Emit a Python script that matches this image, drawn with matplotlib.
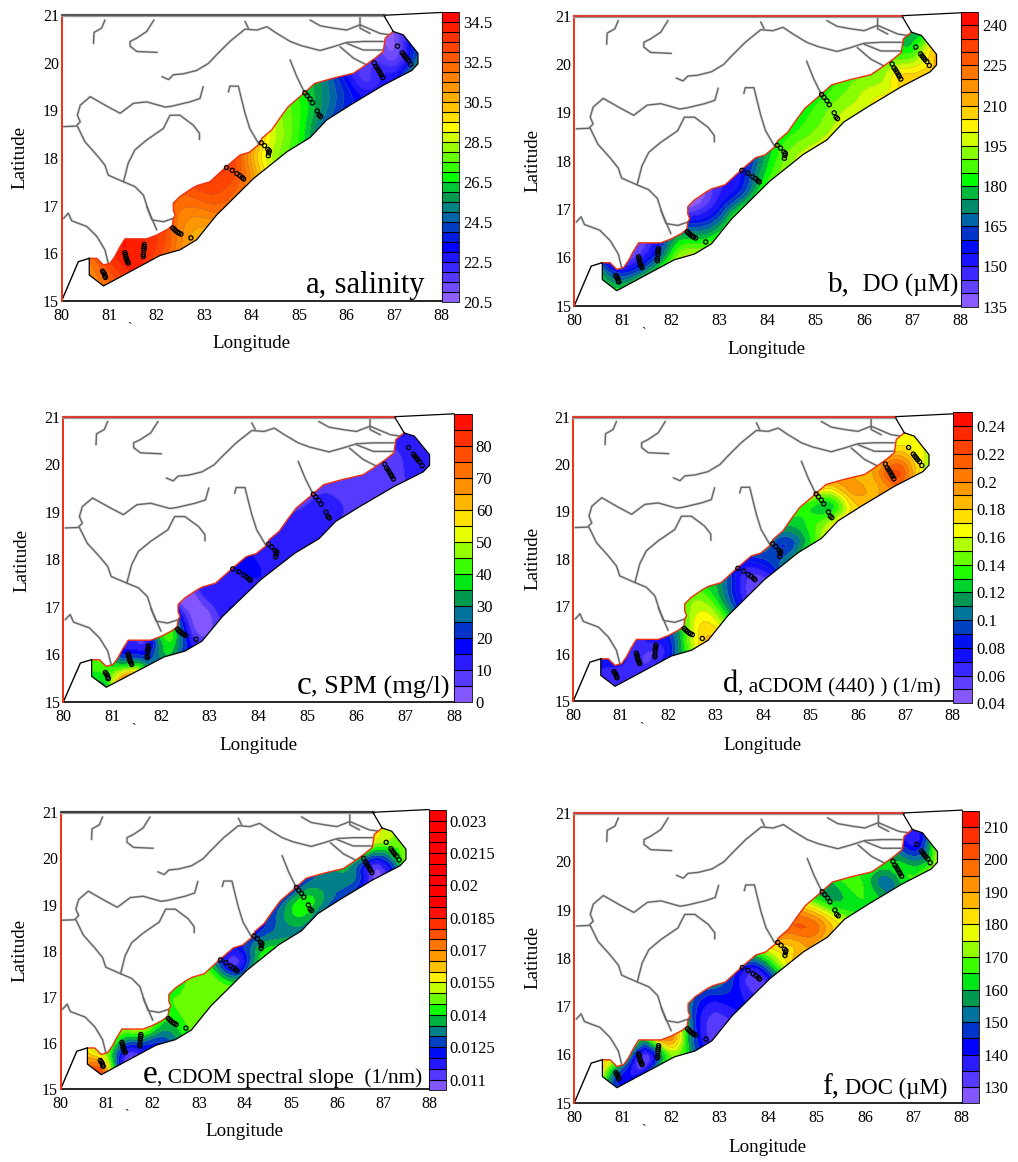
# plot.py
# six coastal maps, bay of bengal western shelf

import numpy as np
import matplotlib
matplotlib.use("Agg")
import matplotlib.pyplot as plt
from matplotlib.colors import LinearSegmentedColormap
from matplotlib.patches import Polygon
from matplotlib.tri import Triangulation, UniformTriRefiner

plt.rcParams["font.family"] = ["Liberation Serif", "DejaVu Serif"]

W, H = 1018, 1162

# coast, land side from the south west, then back along the sea side
COAST = [(80.58, 15.89), (80.74, 15.89), (80.88, 15.75), (81.02, 15.79), (81.12, 15.93), (81.22, 16.12),
         (81.33, 16.30), (81.79, 16.30), (82.0, 16.38), (82.21, 16.49), (82.33, 16.58), (82.35, 16.73),
         (82.39, 16.8), (82.35, 16.9), (82.35, 17.05), (82.49, 17.19), (82.74, 17.36), (82.85, 17.42),
         (83.12, 17.5), (83.47, 17.82), (83.75, 18.06), (83.95, 18.12), (84.18, 18.31), (84.21, 18.41),
         (84.42, 18.59), (84.6, 18.85), (84.77, 19.08), (85.05, 19.32), (85.33, 19.57), (85.72, 19.68),
         (86.14, 19.78), (86.35, 19.92), (86.6, 20.1), (86.77, 20.24), (86.81, 20.52), (86.98, 20.66)]
SEA = [(87.19, 20.59), (87.5, 20.2), (87.5, 19.98), (87.37, 19.84), (86.77, 19.53), (86.07, 19.11),
       (85.58, 18.8), (85.23, 18.43), (84.74, 18.13), (84.04, 17.57), (83.26, 16.80), (82.84, 16.28),
       (82.49, 16.07), (82.07, 15.95), (80.88, 15.31), (80.58, 15.54)]
LAND_EDGE = [(80.35, 15.82), (80.0, 15.0)]

# cross shelf sections, land end and sea end
SECTION_LAND = [(80.5, 15.95), (80.85, 15.85), (81.15, 16.05), (81.35, 16.4), (81.75, 16.4), (82.15, 16.6),
                (82.3, 17.1), (82.7, 17.45), (83.15, 17.6), (83.5, 17.9), (83.85, 18.15), (84.2, 18.45),
                (84.5, 18.7), (84.8, 19.15), (85.1, 19.42), (85.45, 19.65), (85.85, 19.8), (86.25, 19.92),
                (86.65, 20.3), (86.8, 20.7), (87.05, 20.8), (87.3, 20.6)]
SECTION_SEA = [(80.5, 15.45), (81.0, 15.2), (81.4, 15.45), (81.75, 15.65), (82.05, 15.85), (82.45, 15.95),
               (82.9, 16.15), (83.3, 16.7), (83.7, 17.1), (84.05, 17.45), (84.4, 17.75), (84.75, 18.05),
               (85.2, 18.35), (85.55, 18.72), (85.85, 18.9), (86.1, 19.05), (86.4, 19.25), (86.75, 19.45),
               (87.0, 19.6), (87.4, 19.75), (87.6, 20.05), (87.6, 20.3)]

# values at each section: land, middle, sea
SALINITY = [(32, 31.5, 31.5), (33, 32.5, 32), (34.3, 34, 33.5), (34.5, 34.3, 34), (34, 33.7, 33), (33, 32.5, 31.5),
            (32.5, 31.5, 30.5), (33, 32.5, 31.5), (33.5, 33, 32), (33.5, 32.5, 31), (32, 30, 29), (30, 28.5, 27.5),
            (28.5, 27.5, 26), (27.5, 26.5, 24.5), (26.5, 25.5, 24), (25.5, 24.5, 23.5), (23.5, 23, 23), (22, 22, 23),
            (21.5, 22, 23), (20.8, 21.5, 26.5), (21, 23, 25.5), (22, 23, 24)]
DO = [(160, 178, 185), (150, 170, 190), (140, 160, 190), (140, 155, 190), (155, 172, 195), (165, 185, 200),
      (135, 165, 195), (140, 155, 190), (150, 160, 190), (155, 172, 190), (170, 184, 195), (180, 190, 198),
      (182, 190, 198), (182, 190, 198), (182, 192, 200), (185, 193, 200), (188, 195, 202), (188, 198, 205),
      (182, 198, 210), (178, 190, 215), (175, 195, 215), (180, 195, 210)]
SPM = [(40, 40, 42), (42, 42, 50), (20, 40, 85), (14, 18, 35), (14, 25, 32), (42, 35, 20),
       (7.5, 8, 13), (9, 9.5, 12), (11, 12, 12), (17, 16, 12), (15, 13, 12), (12, 12, 12),
       (12, 12, 12), (9, 12, 12), (8, 12, 8), (8, 8, 8), (8, 8, 8), (8, 8, 8),
       (8, 8, 10), (18, 12, 12), (15, 12, 12), (12, 12, 12)]
ACDOM = [(.07, .07, .07), (.075, .065, .07), (.07, .065, .07), (.07, .06, .07), (.085, .07, .09), (.11, .125, .14),
         (.14, .165, .185), (.13, .135, .13), (.11, .08, .06), (.08, .06, .05), (.10, .09, .10), (.11, .09, .125),
         (.12, .12, .15), (.14, .13, .17), (.17, .13, .18), (.19, .18, .18), (.19, .19, .19), (.185, .2, .2),
         (.17, .215, .2), (.17, .175, .15), (.17, .165, .14), (.17, .16, .14)]
SLOPE = [(.016, .0165, .0165), (.015, .0165, .017), (.0145, .0125, .011), (.015, .013, .0115), (.016, .0135, .012),
         (.0145, .0135, .013), (.0145, .0145, .0145), (.0145, .0147, .0148), (.0145, .0145, .0147), (.0125, .0115, .014),
         (.0122, .013, .0145), (.012, .0133, .0142), (.0125, .0133, .0133), (.0122, .0143, .013), (.0122, .014, .0125),
         (.0128, .0133, .0125), (.0133, .0133, .0122), (.0138, .0125, .0112), (.0155, .012, .0112), (.0155, .0143, .0135),
         (.015, .0148, .0155), (.015, .015, .015)]
DOC = [(185, 190, 180), (170, 145, 155), (160, 135, 155), (170, 138, 170), (195, 175, 170), (180, 165, 155),
       (158, 140, 135), (155, 140, 137), (150, 140, 137), (150, 135, 140), (170, 170, 175), (195, 185, 190),
       (200, 198, 182), (175, 178, 178), (155, 160, 165), (165, 165, 165), (165, 160, 158), (165, 155, 160),
       (150, 160, 165), (140, 145, 178), (140, 155, 185), (150, 165, 185)]

STATION_LON = [80.86, 80.88, 80.9, 80.91, 80.92, 81.33, 81.34, 81.35, 81.36, 81.37, 81.39, 81.40,
               81.74, 81.74, 81.73, 81.73, 81.72, 81.72, 82.34, 82.37, 82.40, 82.44, 82.47, 82.51, 82.72,
               83.47, 83.59, 83.69, 83.75, 83.80, 83.83, 84.2, 84.27, 84.34, 84.37, 84.36, 84.35,
               85.12, 85.17, 85.23, 85.28, 85.38, 85.42, 85.45,
               86.58, 86.62, 86.65, 86.68, 86.71, 86.73, 86.76,
               87.07, 87.17, 87.2, 87.23, 87.26, 87.3, 87.35]
STATION_LAT = [15.62, 15.59, 15.56, 15.52, 15.49, 16.01, 15.97, 15.93, 15.89, 15.85, 15.82, 15.79,
               16.18, 16.14, 16.10, 16.06, 15.97, 15.93, 16.53, 16.50, 16.47, 16.44, 16.42, 16.40, 16.32,
               17.80, 17.74, 17.67, 17.63, 17.59, 17.56, 18.32, 18.26, 18.18, 18.15, 18.11, 18.05,
               19.37, 19.31, 19.24, 19.16, 18.99, 18.90, 18.87,
               20.0, 19.92, 19.88, 19.83, 19.78, 19.74, 19.69,
               20.35, 20.21, 20.17, 20.13, 20.09, 20.05, 19.97]

RIVERS = [
    [(80.91, 20.90), (80.84, 20.73), (80.68, 20.64), (80.67, 20.41)],
    [(81.94, 20.90), (81.79, 20.66), (81.58, 20.52), (81.44, 20.45), (81.44, 20.35), (81.58, 20.24), (82.01, 20.22)],
    [(82.11, 19.71), (82.25, 19.65), (82.35, 19.75), (82.56, 19.77), (82.84, 19.84), (83.09, 19.99), (83.26, 20.17),
     (83.54, 20.45), (83.75, 20.62), (83.86, 20.71), (84.11, 20.69), (84.32, 20.76), (84.53, 20.62), (84.81, 20.45),
     (85.05, 20.36), (85.44, 20.26), (85.72, 20.34), (86.0, 20.43), (86.35, 20.45), (86.77, 20.45)],
    [(83.86, 20.87), (83.93, 20.73)],
    [(85.23, 20.90), (85.44, 20.78), (85.72, 20.73), (86.0, 20.69), (86.28, 20.80), (86.7, 20.62), (86.91, 20.59)],
    [(86.28, 20.97), (86.28, 20.73), (86.49, 20.62)],
    [(86.0, 20.41), (86.35, 20.27), (86.77, 20.27)],
    [(85.86, 20.34), (86.14, 20.10), (86.49, 19.92)],
    [(84.81, 20.06), (84.95, 19.71), (85.12, 19.36)],
    [(82.98, 19.5), (82.91, 19.25), (82.70, 19.18), (82.32, 19.09), (82.18, 19.07), (81.79, 19.18), (81.51, 19.15),
     (81.23, 18.94), (80.95, 19.09), (80.6, 19.29), (80.39, 19.11), (80.33, 18.9), (80.39, 18.76), (80.30, 18.67),
     (80.04, 18.66)],
    [(80.33, 18.67), (80.49, 18.34), (80.74, 18.06), (80.91, 17.85), (80.98, 17.64), (81.3, 17.5), (81.54, 17.4),
     (81.72, 17.22), (81.82, 16.91), (82.0, 16.49)],
    [(81.3, 17.5), (81.4, 17.89), (81.54, 18.17), (81.79, 18.38), (82.14, 18.62), (82.28, 18.9), (82.49, 18.9),
     (82.77, 18.69), (82.9, 18.52), (82.9, 18.39)],
    [(81.79, 16.98), (81.9, 16.70), (82.14, 16.66), (82.35, 16.73)],
    [(80.04, 16.73), (80.14, 16.84), (80.21, 16.68), (80.53, 16.56), (80.74, 16.35), (80.91, 16.07), (80.98, 15.79)],
    [(83.51, 19.39), (83.54, 19.51), (83.72, 19.51), (83.79, 19.22), (83.86, 18.94), (83.96, 18.62), (84.14, 18.31)],
]

# bands = how many bands the whole palette is spread over, the rest stay red
PANELS = [
    dict(vals=SALINITY, lo=20.5, hi=35.0, step=0.5, ticks=[20.5, 22.5, 24.5, 26.5, 28.5, 30.5, 32.5, 34.5],
         labels=["20.5", "22.5", "24.5", "26.5", "28.5", "30.5", "32.5", "34.5"], bands=29,
         map_px=(61.7, 441.7, 15.3, 300.7), bar_px=(459, 12.3, 301.7),
         lat_px=(20, 157), lon_px=(252, 344),
         lead="a,", lead_fs=22, rest=" salinity", rest_fs=22, note=(85.14, 15.17), top="#444444"),
    dict(vals=DO, lo=135, hi=245, step=5, ticks=[135, 150, 165, 180, 195, 210, 225, 240],
         labels=["135", "150", "165", "180", "195", "210", "225", "240"], bands=22,
         map_px=(574.3, 960.7, 15.7, 305.7), bar_px=(978.3, 11.7, 306.7),
         lat_px=(533, 160), lon_px=(767, 350),
         lead="b,", lead_fs=21, rest="  DO (\u00b5M)", rest_fs=18, note=(85.26, 15.29), top="#ee2211"),
    dict(vals=SPM, lo=0, hi=90, step=5, ticks=[0, 10, 20, 30, 40, 50, 60, 70, 80],
         labels=["0", "10", "20", "30", "40", "50", "60", "70", "80"], bands=18,
         map_px=(63.3, 454, 416.7, 702), bar_px=(471.7, 414, 702.3),
         lat_px=(22, 560), lon_px=(259, 746),
         lead="c", lead_fs=24, rest=", SPM (mg/l)", rest_fs=19, note=(84.78, 15.17), top="#ee2211"),
    dict(vals=ACDOM, lo=0.04, hi=0.25, step=0.01, ticks=[.04, .06, .08, .1, .12, .14, .16, .18, .2, .22, .24],
         labels=["0.04", "0.06", "0.08", "0.1", "0.12", "0.14", "0.16", "0.18", "0.2", "0.22", "0.24"], bands=21,
         map_px=(573.3, 952.7, 416.7, 701), bar_px=(972, 412.3, 703.3),
         lat_px=(533, 558), lon_px=(763, 745),
         lead="d", lead_fs=22, rest=", aCDOM (440) ) (1/m)", rest_fs=15.5, note=(83.16, 15.18), top="#ee2211"),
    dict(vals=SLOPE, lo=0.0105, hi=0.0235, step=0.0005,
         ticks=[.011, .0125, .014, .0155, .017, .0185, .02, .0215, .023],
         labels=["0.011", "0.0125", "0.014", "0.0155", "0.017", "0.0185", "0.02", "0.0215", "0.023"], bands=17,
         map_px=(60.7, 429, 812.3, 1089), bar_px=(445.7, 810, 1090.3),
         lat_px=(20, 950), lon_px=(245, 1132),
         lead="e", lead_fs=24, rest=", CDOM spectral slope  (1/nm)", rest_fs=15.3, note=(81.78, 15.14), top="#222222"),
    dict(vals=DOC, lo=125, hi=215, step=5, ticks=[130, 140, 150, 160, 170, 180, 190, 200, 210],
         labels=["130", "140", "150", "160", "170", "180", "190", "200", "210"], bands=18,
         map_px=(574.3, 961.7, 813, 1102.7), bar_px=(979.3, 810.7, 1103.3),
         lat_px=(533, 957), lon_px=(768, 1147),
         lead="f,", lead_fs=21, rest=" DOC (\u00b5M)", rest_fs=16.5, note=(85.11, 15.18), top="#ee2211"),
]

# purple - blue - teal - green - yellow - red, like the surfer palette
RAINBOW = LinearSegmentedColormap.from_list("rainbow_bands", [
    (0.0, "#9966ff"), (0.19, "#0000ff"), (0.25, "#0033cc"), (0.31, "#007799"), (0.36, "#009950"),
    (0.40, "#00cc33"), (0.43, "#00ff00"), (0.50, "#66ff00"), (0.60, "#ffff00"), (0.71, "#ffaa00"),
    (0.85, "#ff5500"), (1.0, "#ff0000")])


def shelf_mesh():
    land = np.array(SECTION_LAND)
    sea = np.array(SECTION_SEA)
    mid = (land + sea) / 2
    pts = np.stack([land, mid, sea], axis=1).reshape(-1, 2)
    tris = []
    for i in range(len(land) - 1):
        for j in range(2):
            a = i * 3 + j
            tris.append([a, a + 1, a + 3])
            tris.append([a + 1, a + 4, a + 3])
    return Triangulation(pts[:, 0], pts[:, 1], np.array(tris))


MESH = shelf_mesh()


def draw_panel(fig, p):
    x0, x1, y21, y15 = p["map_px"]
    ax = fig.add_axes([x0 / W, 1 - y15 / H, (x1 - x0) / W, (y15 - y21) / H])
    ax.set_xlim(80, 88)
    ax.set_ylim(15, 21)
    for s in ax.spines.values():
        s.set_visible(False)
    ax.tick_params(length=0, labelsize=11.5)
    ax.tick_params(axis="x", pad=5)
    ax.tick_params(axis="y", pad=2)
    ax.set_xticks(range(80, 89))
    ax.set_yticks(range(15, 22))

    for river in RIVERS:
        r = np.array(river)
        ax.plot(r[:, 0], r[:, 1], color="#dddddd", lw=2.0, solid_capstyle="round", solid_joinstyle="round", zorder=1)
        ax.plot(r[:, 0], r[:, 1], color="#666666", lw=1.0, solid_capstyle="round", solid_joinstyle="round", zorder=1.1)

    levels = np.arange(p["lo"], p["hi"] + p["step"] / 2, p["step"])
    n = len(levels) - 1
    colors = [RAINBOW(min((i + 0.5) / p["bands"], 1.0)) for i in range(n)]

    z = np.array(p["vals"], dtype=float).reshape(-1)
    fine_tri, fine_z = UniformTriRefiner(MESH).refine_field(z, subdiv=3)
    fine_z = np.clip(fine_z, p["lo"] + 1e-6, p["hi"] - 1e-6)

    shelf = Polygon(COAST + SEA, closed=True, transform=ax.transData, fc="none", ec="none")
    ax.add_patch(shelf)
    cs = ax.tricontourf(fine_tri, fine_z, levels=levels, colors=colors, zorder=2)
    cs.set_clip_path(shelf)
    cl = ax.tricontour(fine_tri, fine_z, levels=levels, colors="#777777", linewidths=0.3, alpha=0.5, zorder=2.1)
    cl.set_clip_path(shelf)

    coast = np.array(COAST)
    sea = np.array(SEA + [COAST[0]])
    edge = np.array([COAST[0]] + LAND_EDGE)
    ax.plot(coast[:, 0], coast[:, 1], color="#f03010", lw=1.0, zorder=3)
    ax.plot(np.r_[COAST[-1][0], sea[:, 0]], np.r_[COAST[-1][1], sea[:, 1]], color="black", lw=0.9, zorder=3)
    ax.plot(edge[:, 0], edge[:, 1], color="black", lw=1.0, zorder=3)
    # frame of the land mask
    ax.plot([80, 88], [15, 15], color="black", lw=1.2, zorder=3, clip_on=False)
    ax.plot([80, 80], [15, 21], color="#f03010", lw=1.4, zorder=3, clip_on=False)
    ax.plot([80, 86.78], [21, 21], color="#999999", lw=2.4, zorder=3, clip_on=False)
    ax.plot([80, 86.78], [21, 21], color=p["top"], lw=1.1, zorder=3.1, clip_on=False)
    ax.plot([86.78, 86.98], [21, 20.66], color="black", lw=0.9, zorder=3, clip_on=False)
    ax.plot([86.78, 88], [21, 21.06], color="black", lw=0.9, zorder=3, clip_on=False)
    ax.plot([88, 88], [15, 21.06], color="black", lw=0.8, zorder=3, clip_on=False)

    ax.scatter(STATION_LON, STATION_LAT, s=9, facecolors="none", edgecolors="black", linewidths=0.9, zorder=4)
    ax.text(81.43, 14.42, "`", fontsize=10, color="black", ha="center", va="center", clip_on=False)

    # legend text, first letter a bit larger
    lon, lat = p["note"]
    lead = ax.text(lon, lat, p["lead"], fontsize=p["lead_fs"], va="baseline", ha="left", zorder=5)
    box = lead.get_window_extent(fig.canvas.get_renderer())
    end_lon = ax.transData.inverted().transform((box.x1, box.y0))[0]
    ax.text(end_lon, lat, p["rest"], fontsize=p["rest_fs"], va="baseline", ha="left", zorder=5)

    xb, yt, yb = p["bar_px"]
    cax = fig.add_axes([x1 / W, 1 - yb / H, (xb - x1) / W, (yb - yt) / H])
    cb = fig.colorbar(cs, cax=cax, drawedges=True)
    cb.dividers.set_color("black")
    cb.dividers.set_linewidth(0.8)
    cb.outline.set_linewidth(0.6)
    cb.set_ticks(p["ticks"], labels=p["labels"])
    cb.minorticks_off()
    cax.tick_params(length=0, labelsize=12, pad=3)

    fig.text(p["lat_px"][0] / W, 1 - p["lat_px"][1] / H, "Latitude", rotation=90,
             fontsize=13.7, ha="center", va="center")
    fig.text(p["lon_px"][0] / W, 1 - p["lon_px"][1] / H, "Longitude",
             fontsize=13.7, ha="center", va="center")


fig = plt.figure(figsize=(W / 100, H / 100), dpi=100, facecolor="white")
for panel in PANELS:
    draw_panel(fig, panel)

fig.savefig("out.png", dpi=100, facecolor="white")
plt.close(fig)
